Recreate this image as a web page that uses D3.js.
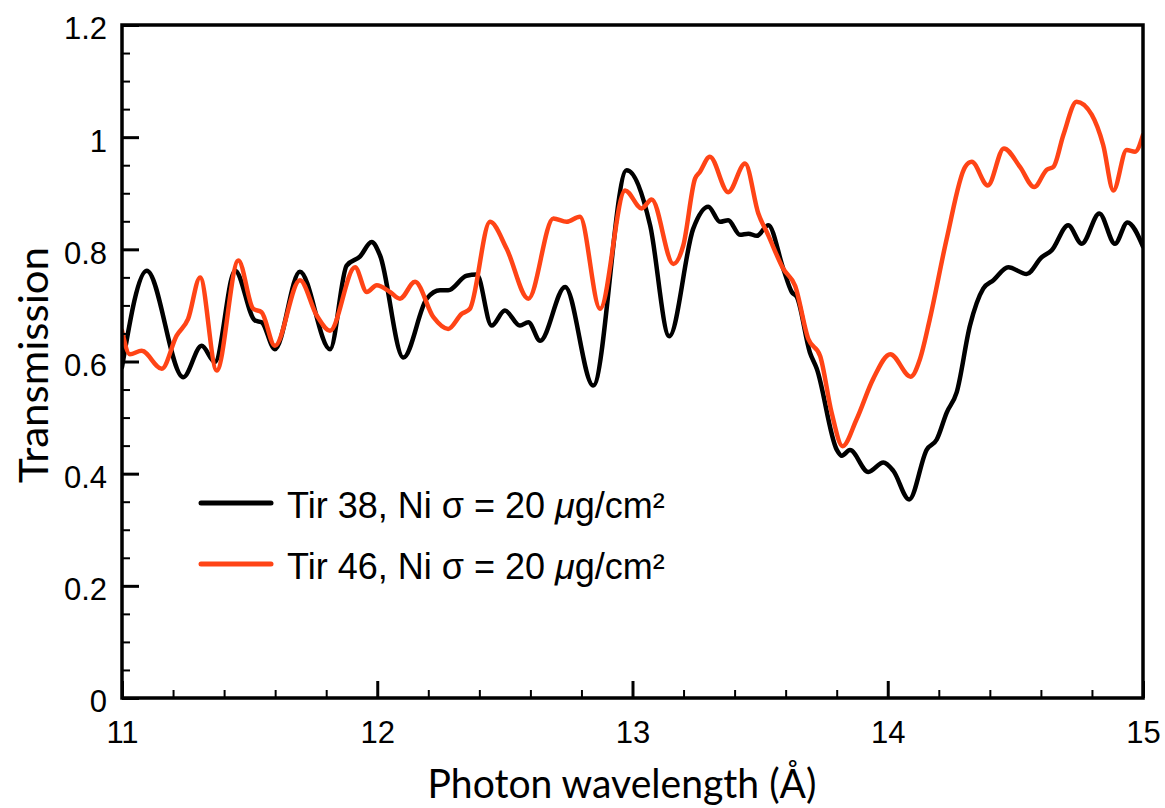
<!DOCTYPE html>
<html><head><meta charset="utf-8">
<script src="https://cdn.jsdelivr.net/npm/d3@7"></script>
<style>body{margin:0;background:#fff}</style></head>
<body><svg id="c" width="1165" height="808"></svg>
<script>
const xTicks = [11, 12, 13, 14, 15];
const yTicks = [0, 0.2, 0.4, 0.6, 0.8, 1, 1.2];
const yTickLabels = ["0", "0.2", "0.4", "0.6", "0.8", "1", "1.2"];
const seriesNames = ["Tir 38, Ni σ = 20 ", "Tir 46, Ni σ = 20 "];
const seriesColors = ["#000000", "#ff4416"];

const tir38 = [
[11.0,0.590],[11.097,0.762],[11.240,0.572],[11.312,0.628],[11.364,0.599],[11.443,0.762],
[11.521,0.673],[11.547,0.670],[11.599,0.622],[11.697,0.760],[11.815,0.622],[11.880,0.771],
[11.932,0.787],[11.978,0.813],[12.011,0.789],[12.102,0.607],[12.194,0.712],[12.246,0.727],
[12.278,0.727],[12.350,0.753],[12.390,0.755],[12.448,0.664],[12.500,0.691],[12.559,0.664],
[12.592,0.670],[12.638,0.637],[12.736,0.733],[12.846,0.557],[12.977,0.941],[13.069,0.843],
[13.144,0.645],[13.238,0.837],[13.297,0.876],[13.343,0.849],[13.375,0.852],[13.421,0.826],
[13.454,0.828],[13.487,0.824],[13.532,0.843],[13.591,0.765],[13.624,0.724],[13.644,0.715],
[13.695,0.616],[13.722,0.587],[13.800,0.443],[13.820,0.432],[13.852,0.442],[13.924,0.403],
[13.983,0.420],[14.022,0.405],[14.084,0.354],[14.153,0.443],[14.192,0.461],[14.231,0.509],
[14.270,0.545],[14.322,0.664],[14.374,0.730],[14.414,0.745],[14.472,0.768],[14.544,0.756],
[14.603,0.786],[14.642,0.798],[14.707,0.843],[14.760,0.810],[14.829,0.864],[14.890,0.810],
[14.939,0.848],[15.0,0.805]
];
const tir46 = [
[11.0,0.655],[11.031,0.613],[11.077,0.619],[11.156,0.587],[11.214,0.646],[11.259,0.676],
[11.306,0.750],[11.371,0.584],[11.456,0.780],[11.514,0.694],[11.547,0.688],[11.599,0.628],
[11.697,0.745],[11.763,0.682],[11.815,0.655],[11.913,0.768],[11.959,0.724],[11.998,0.736],
[12.050,0.724],[12.089,0.712],[12.148,0.742],[12.220,0.679],[12.278,0.658],[12.331,0.685],
[12.363,0.694],[12.442,0.849],[12.507,0.801],[12.592,0.712],[12.690,0.855],[12.742,0.849],
[12.794,0.858],[12.873,0.694],[12.971,0.905],[13.036,0.873],[13.075,0.889],[13.160,0.774],
[13.199,0.807],[13.245,0.926],[13.264,0.938],[13.303,0.965],[13.375,0.902],[13.441,0.953],
[13.493,0.864],[13.532,0.825],[13.591,0.765],[13.637,0.735],[13.689,0.640],[13.735,0.610],
[13.780,0.509],[13.823,0.449],[13.878,0.497],[13.943,0.569],[14.010,0.613],[14.090,0.573],
[14.126,0.604],[14.165,0.676],[14.231,0.819],[14.303,0.947],[14.329,0.956],[14.392,0.914],
[14.455,0.980],[14.518,0.947],[14.574,0.911],[14.623,0.942],[14.649,0.947],[14.688,1.004],
[14.740,1.063],[14.799,1.040],[14.844,0.986],[14.884,0.905],[14.936,0.977],[14.969,0.974],
[15.0,1.004]
];

const svg = d3.select("#c");
const L = 122, R = 1143, T = 25, B = 698;
const x = d3.scaleLinear().domain([11, 15]).range([L, R]);
const y = d3.scaleLinear().domain([0, 1.2]).range([B, T]);

svg.append("clipPath").attr("id","clip").append("rect")
  .attr("x", L).attr("y", T).attr("width", R-L).attr("height", B-T);

const line = d3.line().x(d=>x(d[0])).y(d=>y(d[1])).curve(d3.curveMonotoneX);
const g = svg.append("g").attr("clip-path","url(#clip)");
[tir38, tir46].forEach((s,i)=>{
  g.append("path").datum(s).attr("d", line).attr("fill","none")
   .attr("stroke", seriesColors[i]).attr("stroke-width", 4.5)
   .attr("stroke-linejoin","round").attr("stroke-linecap","round");
});

const tickFont = "'Liberation Sans', Arial, sans-serif";
const xMinor = d3.range(11, 15.001, 0.2).filter(v=>Math.abs(v-Math.round(v))>1e-6);
const yMinor = d3.range(0, 1.2001, 0.05).filter(v=>Math.abs(v*5-Math.round(v*5))>1e-6);

const xAxis = d3.axisBottom(x).tickValues(xTicks).tickSizeInner(-17).tickSizeOuter(0).tickPadding(45).tickFormat(d3.format("d"));
const xa = svg.append("g").attr("transform",`translate(0,${B})`).call(xAxis);
xa.select(".domain").remove();
xa.selectAll(".tick line").attr("stroke-width",3);
xa.selectAll(".tick text").attr("font-family",tickFont).attr("font-size",31).attr("fill","#000").attr("dy","0");
const xm = svg.append("g").attr("transform",`translate(0,${B})`).call(d3.axisBottom(x).tickValues(xMinor).tickSizeInner(-8).tickSizeOuter(0).tickFormat(""));
xm.select(".domain").remove();
xm.selectAll(".tick line").attr("stroke-width",2);

const yAxis = d3.axisLeft(y).tickValues(yTicks).tickSizeInner(-17).tickSizeOuter(0).tickPadding(15).tickFormat((d,i)=>yTickLabels[i]);
const ya = svg.append("g").attr("transform",`translate(${L},0)`).call(yAxis);
ya.select(".domain").remove();
ya.selectAll(".tick line").attr("stroke-width",3);
ya.selectAll(".tick text").attr("font-family",tickFont).attr("font-size",31).attr("fill","#000").attr("dy","0.45em");
const ym = svg.append("g").attr("transform",`translate(${L},0)`).call(d3.axisLeft(y).tickValues(yMinor).tickSizeInner(-8).tickSizeOuter(0).tickFormat(""));
ym.select(".domain").remove();
ym.selectAll(".tick line").attr("stroke-width",2);

svg.append("rect").attr("x",L).attr("y",T).attr("width",R-L).attr("height",B-T)
  .attr("fill","none").attr("stroke","#000").attr("stroke-width",3.5);

svg.append("text").attr("x", 622).attr("y", 798).attr("text-anchor","middle")
  .attr("font-family","Lato, 'Open Sans', sans-serif").attr("font-size",41).attr("fill","#000")
  .attr("textLength",389).attr("lengthAdjust","spacingAndGlyphs")
  .text("Photon wavelength (Å)");
svg.append("text").attr("transform",`translate(48,365) rotate(-90)`).attr("text-anchor","middle")
  .attr("font-family","Lato, 'Open Sans', sans-serif").attr("font-size",40).attr("fill","#000")
  .attr("textLength",236).attr("lengthAdjust","spacingAndGlyphs")
  .text("Transmission");

const legY = [503, 564];
seriesNames.forEach((n,i)=>{
  svg.append("line").attr("x1",201).attr("x2",271).attr("y1",legY[i]).attr("y2",legY[i])
    .attr("stroke",seriesColors[i]).attr("stroke-width",5).attr("stroke-linecap","round");
  const t = svg.append("text").attr("x",287).attr("y",legY[i]+15)
    .attr("font-family",tickFont).attr("font-size",36).attr("fill","#000");
  t.append("tspan").text(n);
  t.append("tspan").attr("font-style","italic").text("μ");
  t.append("tspan").text("g/cm²");
});
</script></body></html>
